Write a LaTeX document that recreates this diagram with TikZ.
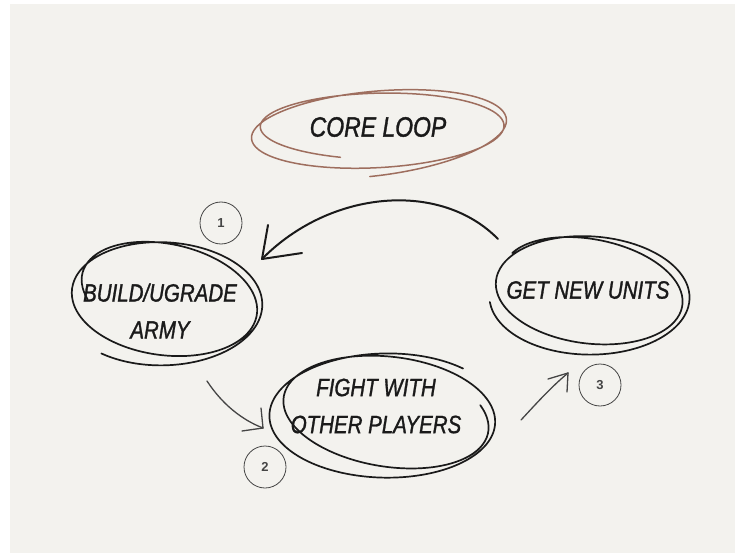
\documentclass[tikz,border=0pt]{standalone}
\usepackage{fontspec}
\setmainfont{Liberation Sans}
\newfontfamily\hand[FakeStretch=0.82,FakeBold=1.2]{Liberation Sans}
\definecolor{panel}{HTML}{F3F2EE}
\definecolor{loopbrown}{HTML}{9E6E5E}
\definecolor{ink}{HTML}{1A1A1A}
\definecolor{arrowgray}{HTML}{454545}
% drift parameters, set before each loop
\def\ldrx{0}\def\ldry{0}\def\ldcx{0}\def\ldcy{0}\def\ldtilt{0}
\newcommand{\sketchloop}[7]{%
  \draw[loopline] plot[smooth, samples=160, domain=#6:#7, variable=\t]
  ({#1 + \ldcx*(\t-#6)/360 + (#3+\ldrx*(\t-#6)/360)*cos(\t)*cos(#5+\ldtilt*(\t-#6)/360) - (#4+\ldry*(\t-#6)/360)*sin(\t)*sin(#5+\ldtilt*(\t-#6)/360)},
   {#2 + \ldcy*(\t-#6)/360 + (#3+\ldrx*(\t-#6)/360)*cos(\t)*sin(#5+\ldtilt*(\t-#6)/360) + (#4+\ldry*(\t-#6)/360)*sin(\t)*cos(#5+\ldtilt*(\t-#6)/360)});}
\begin{document}
\begin{tikzpicture}[x=1pt,y=-1pt,
  loopline/.style={ink, line width=1.7pt, line cap=round, line join=round},
  label/.style={font=\hand\itshape\fontsize{25}{37}\selectfont, align=center, text=ink, inner sep=0pt},
  numcircle/.style={draw=arrowgray, line width=0.8pt, circle, minimum size=42pt, inner sep=0pt,
    font=\fontsize{13}{13}\selectfont\bfseries, text=arrowgray},
  flow/.style={arrowgray, line width=1.3pt, line cap=round},
  bigflow/.style={ink, line width=2pt, line cap=round}]
\useasboundingbox (0,0) rectangle (735,553);
\fill[white] (0,0) rectangle (735,553);
\fill[panel] (10,4) rectangle (735,553);

% title
\node[label, font=\hand\itshape\fontsize{28}{34}\selectfont] (core) at (378,127) {CORE LOOP};
\begin{scope}[loopline/.append style={loopbrown, line width=1.5pt}]
\def\ldrx{6}\def\ldry{5}\def\ldcx{-3}\def\ldcy{3}\def\ldtilt{-4}
\sketchloop{382}{127}{120}{33}{1}{110}{815}
\end{scope}

% nodes
\node[label] (build) at (160,311) {BUILD/UGRADE\\ARMY};
\def\ldrx{6}\def\ldry{6}\def\ldcx{-2}\def\ldcy{4}\def\ldtilt{-9}
\sketchloop{168}{296}{88}{51}{16}{150}{850}

\node[label] (fight) at (376,406) {FIGHT WITH\\OTHER PLAYERS};
\def\ldrx{9}\def\ldry{7}\def\ldcx{-4}\def\ldcy{4}\def\ldtilt{-8}
\sketchloop{390}{411}{100}{52}{13}{-30}{675}

\node[label] (units) at (588,290) {GET NEW UNITS};
\def\ldrx{6}\def\ldry{7}\def\ldcx{0}\def\ldcy{4}\def\ldtilt{-7}
\sketchloop{591}{288}{90}{48}{13}{200}{895}

% number circles
\node[numcircle] (n1) at (221,223) {1};
\node[numcircle] (n2) at (265,467) {2};
\node[numcircle] (n3) at (600,385) {3};

% arrow units -> build
\coordinate (a1s) at (498,239);
\coordinate (a1e) at (262,259);
\draw[bigflow] (a1s) .. controls (440,180) and (330,190) .. (a1e);
\draw[bigflow] (a1e) -- ++(6,-34);
\draw[bigflow] (a1e) -- ++(40,-6);

% arrow build -> fight
\coordinate (a2s) at (207,381);
\coordinate (a2e) at (263,428);
\draw[flow] (a2s) .. controls (222,404) and (242,420) .. (a2e);
\draw[flow] (a2e) -- ++(-2,-20);
\draw[flow] (a2e) -- ++(-21,3);

% arrow fight -> units
\coordinate (a3s) at (521,420);
\coordinate (a3e) at (568,373);
\draw[flow] (a3s) .. controls (535,405) and (550,388) .. (a3e);
\draw[flow] (a3e) -- ++(-20,6);
\draw[flow] (a3e) -- ++(-1,19);
\end{tikzpicture}
\end{document}
